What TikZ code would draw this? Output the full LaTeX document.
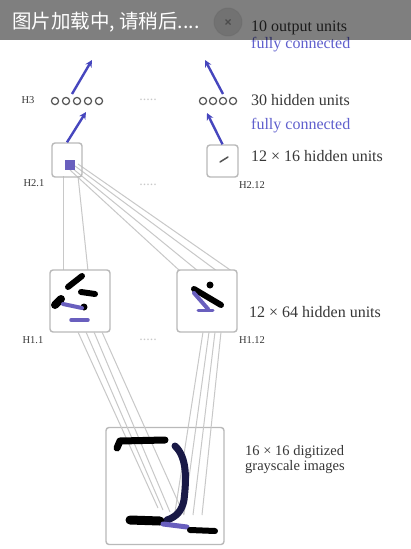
\documentclass[tikz,border=0pt]{standalone}
\usepackage{fontspec}
\setmainfont{Liberation Serif}
\newfontfamily\cjk{Noto Sans CJK SC}
\usetikzlibrary{arrows.meta}
\definecolor{boxgray}{RGB}{185,185,185}
\definecolor{linegray}{RGB}{200,200,200}
\definecolor{arrblue}{RGB}{70,70,190}
\definecolor{fieldblue}{RGB}{105,95,190}
\definecolor{navy}{RGB}{25,25,70}
\definecolor{txtgray}{RGB}{55,55,55}
\definecolor{bluetxt}{RGB}{95,95,205}
\definecolor{dotgray}{RGB}{200,200,200}
\definecolor{unitgray}{RGB}{85,85,85}
\begin{document}
\begin{tikzpicture}[x=1pt,y=-1pt,
  mapbox/.style={draw=boxgray, line width=1.4pt, rounded corners=3pt, inner sep=0pt},
  fan/.style={draw=linegray, line width=1pt},
  arr/.style={draw=arrblue, line width=2.4pt, -{Stealth[length=7pt,width=7pt]}},
  lbl/.style={anchor=west, text=txtgray, font=\fontsize{16}{18}\selectfont, inner sep=0pt},
  blbl/.style={anchor=west, text=bluetxt, font=\fontsize{16}{18}\selectfont, inner sep=0pt},
  small/.style={text=txtgray, font=\fontsize{10.5}{12}\selectfont, inner sep=0pt},
  dots/.style={text=dotgray, font=\fontsize{14}{14}\selectfont, inner sep=0pt},
  ink/.style={draw=black, line width=6pt, line cap=round, line join=round},
  bink/.style={draw=fieldblue, line width=4pt, line cap=round, line join=round}]
\useasboundingbox (0,0) rectangle (411,549);
\fill[white] (0,0) rectangle (411,549);

% ---------- coordinates ----------
\coordinate (u2a) at (70,170);
\coordinate (u2b) at (72,168);
\coordinate (u2c) at (75,166);
\coordinate (u2d) at (78,164);

% ---------- fan lines H2.1 -> H1 ----------
\draw[fan] (63,176) -- (63,271);
\draw[fan] (78,176) -- (88,271);
\draw[fan] (u2a) -- (180,271);
\draw[fan] (u2b) -- (198,271);
\draw[fan] (u2c) -- (217,271);
\draw[fan] (u2d) -- (236,274);

% ---------- boxes ----------
\node[mapbox, minimum width=30pt, minimum height=34pt] (h21) at (67,160) {};
\node[mapbox, minimum width=31pt, minimum height=32pt] (h212) at (222.5,161) {};
\node[mapbox, fill=white, minimum width=60pt, minimum height=62pt] (h11) at (80,301) {};
\node[mapbox, fill=white, minimum width=60pt, minimum height=62pt] (h112) at (207,301) {};
\node[mapbox, fill=white, minimum width=118pt, minimum height=117pt] (inp) at (165,486) {};

% ---------- lines H1 -> input ----------
\draw[fan] (78,332) -- (158,508);
\draw[fan] (86,332) -- (163,510);
\draw[fan] (94,332) -- (170,512);
\draw[fan] (102,332) -- (184,515);
\draw[fan] (203,332) -- (175,512);
\draw[fan] (209,332) -- (184,514);
\draw[fan] (215,332) -- (193,515);
\draw[fan] (221,332) -- (202,515);

% ---------- contents of H2 maps ----------
\fill[fieldblue] (65,160) rectangle (75,170);
\draw[unitgray, line width=1.5pt, line cap=round] (220,162) -- (228,157);

% ---------- contents of H1.1 ----------
\draw[ink] (68,287) -- (82,276);
\draw[ink] (81,292) -- (95,294);
\draw[ink, line width=8pt] (55,305) -- (61,299);
\fill[black] (84,307) circle (3.5pt);
\draw[bink] (63,304) -- (82,308);
\draw[bink, line width=3.5pt] (71,320) -- (88,320);

% ---------- contents of H1.12 ----------
\fill[black] (210,285) circle (3.5pt);
\draw[ink] (194,289) -- (221,305);
\draw[bink] (194,293) -- (208,309);
\draw[bink, line width=3pt] (198,310) -- (213,310);

% ---------- input digit ----------
\draw[ink, line width=7pt] (117,448) -- (120,441) -- (165,440);
\draw[ink, draw=navy, line width=7pt] (175,446) .. controls (188,458) and (186,482) .. (184,500)
  .. controls (182,511) and (176,517) .. (167,520);
\draw[ink, line width=9pt] (130,520) -- (160,521);
\draw[bink, line width=5pt] (163,524) -- (187,527);
\draw[ink, line width=6pt] (190,530) -- (215,531);

% ---------- H3 row ----------
\node[minimum width=56pt, minimum height=10pt, inner sep=0pt] (h3a) at (77,101) {};
\foreach \x in {55,66,77,88,99} \draw[unitgray, line width=1.2pt] (\x,101) circle (3.6pt);
\node[minimum width=40pt, minimum height=10pt, inner sep=0pt] (h3b) at (218,101) {};
\foreach \x in {203,213,223,233} \draw[unitgray, line width=1.2pt] (\x,101) circle (3.6pt);

% ---------- arrows ----------
\coordinate (o1) at (92,60);
\coordinate (o2) at (205,60);
\coordinate (t1) at (86,112);
\coordinate (t2) at (207,113);
\draw[arr] (72,94) -- (o1);
\draw[arr] (223,94) -- (o2);
\draw[arr] (h21.north) -- (t1);
\draw[arr] (h212.north) -- (t2);

% ---------- labels ----------
\node[small] (lh3) at (28,100) {H3};
\node[small] (lh21) at (34,183) {H2.1};
\node[small] (lh212) at (252,185) {H2.12};
\node[small] (lh11) at (33,340) {H1.1};
\node[small] (lh112) at (252,340) {H1.12};
\node[dots] (d1) at (148,100) {.....};
\node[dots] (d2) at (148,185) {.....};
\node[dots] (d3) at (148,340) {.....};

\node[lbl] (l10) at (251,28) {10 output units};
\node[blbl] (fc1) at (251,45) {fully connected};
\node[lbl] (l30) at (251,100) {30 hidden units};
\node[blbl] (fc2) at (251,126) {fully connected};
\node[lbl] (l216) at (251,156) {12 × 16 hidden units};
\node[lbl] (l264) at (249,312) {12 × 64 hidden units};
\node[lbl, align=left, font=\fontsize{14.5}{15}\selectfont] (lin) at (245,460) {16 × 16 digitized\\grayscale images};

% ---------- loading banner ----------
\fill[black, opacity=0.5] (0,0) rectangle (411,40);
\node[text=white, anchor=west, inner sep=0pt, font=\cjk\fontsize{19.5}{21}\selectfont] (load) at (12,22) {图片加载中, 请稍后....};
\node[circle, draw=black!60, draw opacity=0.35, fill=black, fill opacity=0.1, line width=1pt, minimum size=28pt, inner sep=0pt] (btn) at (228,22) {};
\draw[black!70, line width=1.2pt] ([shift={(-2.5,-2.5)}]btn.center) -- ([shift={(2.5,2.5)}]btn.center)
  ([shift={(-2.5,2.5)}]btn.center) -- ([shift={(2.5,-2.5)}]btn.center);
\end{tikzpicture}
\end{document}
